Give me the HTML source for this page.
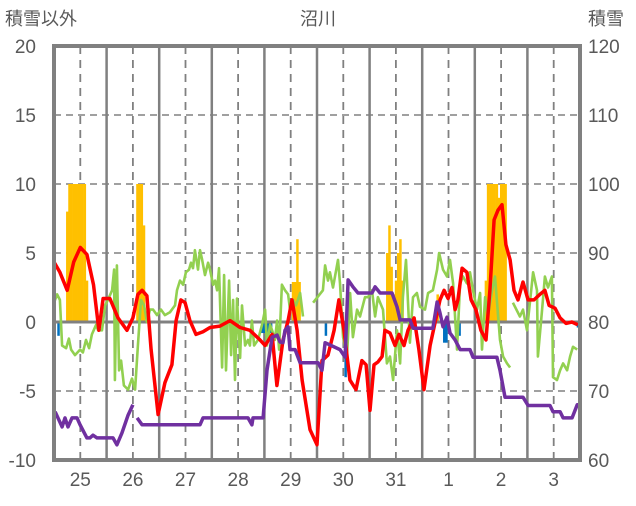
<!DOCTYPE html>
<html><head><meta charset="utf-8"><style>
html,body{margin:0;padding:0;background:#fff;}
svg text{font-family:"Liberation Sans","Noto Sans CJK JP",sans-serif;fill:#595959;}
</style></head><body>
<svg width="636" height="501" viewBox="0 0 636 501" id="chart">
<text x="5" y="25" font-size="18">積雪以外</text>
<text x="318" y="25" font-size="18" text-anchor="middle">沼川</text>
<text x="588" y="25" font-size="18">積雪</text>
<g id="grid"></g>
<g id="bars"></g>
<g id="lines"></g>
<g id="axes"></g>
</svg>
<script>
const dayLabels=["25","26","27","28","29","30","31","1","2","3"];
const leftTicks=[20,15,10,5,0,-5,-10];
const rightTicks=[120,110,100,90,80,70,60];
const orangeT=[6,7,8,9,10,11,12,13,14,15,38,39,40,41,109,110,111,112,152,153,154,155,156,157,158,159,175,197,198,199,200,201,202,203,204,205,206];
const orangeV=[8,10,10,10,10,10,10,10,10,3,10,10,10,7,2.9,2.9,6,2.9,5,7,4,2,3,5,6,3,2,3,10,10,10,10,10,9,10,10,10];
const blueT=[2,95,96,97,98,99,124,133,178,179,185,239];
const blueV=[-1,-0.8,-0.8,-0.8,-0.8,-0.8,-1,-4,-1.5,-1.5,-1,-0.4];
const redT=[0,2.7,6,9,12,15,18,20.5,22.4,25.5,29.2,33.3,36,38.3,40.2,42.4,44.3,47.5,50.6,53.8,55.7,57.9,59.8,62,64.8,68,71.2,75.7,80.3,84.9,89.4,94,96.3,99.5,101.7,104.5,106.8,108.6,110.9,113.2,116.8,120,122.3,125,127.8,130,132.3,135,137.8,140.5,142.4,144.2,146,147.8,149.7,151,153.3,155.6,157.4,159.7,161.5,164.3,166.5,168.8,171.6,173.8,176.1,178,179.8,181.6,183,184.3,186.2,188.4,190.3,192.5,194.8,197.1,198.9,200.8,202.6,204.4,206.2,208.1,209.9,211.7,214,216.3,219,221.7,224,225.9,228.6,230.9,233.6,236.3,239];
const redV=[4.35,3.6,2.3,4.35,5.4,4.9,2.7,-0.6,1.7,1.7,0.3,-0.6,0.3,2.0,2.3,1.9,-2.0,-6.7,-4.4,-3.1,0.1,1.6,1.4,0.1,-0.9,-0.7,-0.4,-0.3,0.1,-0.4,-0.6,-1.3,-1.7,-0.9,-4.6,-1.3,0.1,1.6,-0.6,-4.2,-7.8,-8.9,-2.8,-2.4,-0.6,1.6,-0.6,-4.2,-4.9,-2.8,-3.1,-6.4,-3.1,-2.9,-2.5,-0.6,-0.8,-1.7,-0.9,-1.7,-0.6,0.3,-2.0,-4.9,-1.7,-0.1,1.6,2.3,1.7,2.5,0.9,1.6,3.9,3.6,1.6,0.9,-0.6,-1.3,2.3,7.4,8.1,8.5,5.6,4.5,2.3,1.6,2.9,1.6,1.6,2.0,2.3,1.2,1.0,0.3,-0.1,0,-0.2];
const greenT=[0,1.4,2.7,3.7,5.5,6.8,7.8,9.6,11.9,13.2,14.6,16,17.3,19.2,20.1,21.9,23.3,24.6,26.5,27.4,27.8,28.7,29.7,30.6,31.9,33.8,35.6,37,38.3,39.7,41.1,42.4,43.8,45.2,47,48.8,50.6,52.9,55.2,56.1,57.5,58.9,60.2,61.6,62.5,63.4,64.3,65.7,66.6,67.5,68.9,70.3,71.2,72.6,73.5,74.4,75.3,76.7,77.6,78.5,79.9,80.8,81.7,82.6,83.5,84.9,85.8,87.2,88.5,89.4,90.3,91.3,93.1,94.9,96.3,97.2,98.6,99.5,100.8,101.8,102.7,104,105.4,106.8,107.7,109.1,110.4,112.3,113.6,116,118.2,122.7,123.7,125,125.9,127.3,129.6,130.5,131.9,133.7,135.1,136.4,138.3,139.6,141.9,143.3,145.1,146.5,147.8,150.1,151.9,153.3,154.7,156.5,157.9,159.2,160.6,162.4,163.8,165.6,167,169.3,170.7,172.9,174.8,175.7,177.5,179.3,180.7,182.1,183.9,185.3,186.6,188.4,189.8,191.2,193,194.4,195.3,196.7,198,199.9,201.2,203.5,204.9,206.7,208.1,208.8,209.4,212.6,214,215.8,218.6,220.4,220.8,222.7,224,225.4,227.2,227.7,229.5,230.9,232.3,234.1,235.5,236.8,238.7];
const greenV=[1.4,2.0,1.6,-1.7,-1.9,-1.2,-2.0,-2.4,-2.0,-2.2,-1.3,-1.9,-0.9,-0.2,-0.6,-0.6,1.2,1.6,2.3,3.8,-4.2,4.1,-3.5,-2.8,-4.6,-4.9,-4.1,-4.9,-1.7,1.6,1.2,0,0.9,0.9,0.5,0.9,0.5,0.7,1.2,2.3,3.0,2.7,3.6,3.8,4.3,3.9,5.2,3.8,5.2,4.6,3.4,4.3,3.8,2.7,3.0,2.3,3.9,-3.3,3.4,-3.5,3.0,-2.4,1.6,-4.2,1.7,-2.6,1.2,-1.7,-1.3,-1.7,0.1,-1.7,-1.3,-0.2,0.9,-1.7,-0.2,-0.6,-1.3,0.1,-2.0,2.7,2.3,2.0,0.9,1.6,1.2,2.1,0.4,null,1.4,2.3,4.1,3.0,3.6,2.5,4.5,2.8,-1.1,-2.5,2.1,-1.1,0.9,0.4,1.8,1.8,2.3,0.4,1.8,0.9,-3.0,-2.5,-4.2,-0.6,-3.0,1.8,4.5,-1.5,1.8,2.1,1.1,0.9,2.1,2.3,3.8,5.0,3.8,3.3,4.5,2.8,-2.0,2.8,3.3,2.8,3.6,2.3,0.9,2.1,-2.0,1.8,0.4,2.3,3.3,-1.3,-2.5,-3.0,-3.3,null,1.4,0.4,0.9,-0.6,3.6,2.3,-2.5,0.9,3.3,2.5,3.3,-4.0,-4.2,-3.5,-3.0,-3.5,-2.5,-1.8,-2.0];
const snowT=[0.5,3.7,5,6.4,8.2,10.5,11.9,15,16.4,17.8,19.6,26.9,28.7,31,33.8,36,36.9,37.9,40.2,66.6,68,88.5,90.3,90.8,95.4,97.2,99.5,101.8,103.1,104.5,105.4,106.8,107.7,110,112.3,120.5,122.3,123.7,130.5,132.8,134.2,136.4,138.7,145.1,146.5,148.8,154.2,156.5,157.9,162.4,163.8,172.9,174.8,176.1,177.5,179.3,180.7,183,185.3,189.8,191.2,202.1,203.5,205.8,214,216.3,226.3,227.7,230.9,232.3,236.4,238.7,240];
const snowV=[67.0,64.8,66.1,64.8,66.1,66.1,65.1,63.2,63.2,63.6,63.2,63.2,62.2,63.9,66.5,68.0,null,66.1,65.1,65.1,66.1,66.1,65.1,66.1,66.1,73.0,77.8,78.1,77.1,77.0,78.8,79.3,76.0,76.0,74.1,74.1,73.0,77.0,76.0,74.9,86.1,85.1,84.2,84.2,85.1,84.2,84.2,82.2,80.3,80.3,79.1,79.1,82.9,81.3,79.3,80.7,78.4,77.4,76.0,76.0,74.9,74.9,73.0,69.1,69.1,67.9,67.9,67.0,67.0,66.1,66.1,68.0,68.0];

const NS="http://www.w3.org/2000/svg";
const X0=54,X1=580,Y0=46,Y1=460;
const xS=h=>X0+h*(X1-X0)/240;
const yL=v=>Y0+(20-v)*(Y1-Y0)/30;
const yR=v=>Y0+(120-v)*(Y1-Y0)/60;
function mk(tag,attrs,parent){const e=document.createElementNS(NS,tag);for(const k in attrs)e.setAttribute(k,attrs[k]);parent.appendChild(e);return e;}
const grid=document.getElementById('grid'),bars=document.getElementById('bars'),lines=document.getElementById('lines'),axes=document.getElementById('axes');
leftTicks.forEach((t,i)=>{
  if(t!==20&&t!==-10&&t!==0){
    const l=mk('line',{x1:X0,x2:X1,y1:yL(t),y2:yL(t),stroke:'#808080','stroke-width':1.5,'stroke-dasharray':'7,5'},grid);
    
    
  }
  const tx=mk('text',{x:36,y:yL(t)+7,'font-size':19,'text-anchor':'end'},axes);tx.textContent=t;
  
  
  const rx=mk('text',{x:588,y:yL(t)+7,'font-size':19},axes);rx.textContent=rightTicks[i];
  
  
});
for(let d=0;d<10;d++){
  if(d>0){const l=mk('line',{x1:xS(d*24),x2:xS(d*24),y1:Y0,y2:Y1,stroke:'#808080','stroke-width':2.5},grid);
    
    }
  const l2=mk('line',{x1:xS(d*24+12),x2:xS(d*24+12),y1:Y0,y2:Y1,stroke:'#808080','stroke-width':1.8,'stroke-dasharray':'8,6'},grid);
  
  
  const tx=mk('text',{x:xS(d*24+12),y:486,'font-size':19,'text-anchor':'middle'},axes);tx.textContent=dayLabels[d];
  
  
}
const bw=(X1-X0)/240;
orangeT.forEach((t,i)=>{const v=orangeV[i];const r=mk('rect',{x:xS(t)-bw/2,y:yL(v),width:bw+0.3,height:yL(0)-yL(v),fill:'#FFC000'},bars);
  
  });
blueT.forEach((t,i)=>{const v=blueV[i];const r=mk('rect',{x:xS(t)-bw/2,y:yL(0),width:bw+0.3,height:yL(v)-yL(0),fill:'#0070C0'},bars);
  
  });
const zl=mk('line',{x1:X0,x2:X1,y1:yL(0),y2:yL(0),stroke:'#808080','stroke-width':3},bars);


function path(T,V,ys){let d='',pen=false;T.forEach((t,i)=>{const v=V[i];if(v===null){pen=false;return;}d+=(pen?'L':'M')+xS(t).toFixed(1)+','+ys(v).toFixed(1);pen=true;});return d;}
const g=mk('path',{d:path(greenT,greenV,yL),fill:'none',stroke:'#92D050','stroke-width':2.6,'stroke-linejoin':'round'},lines);


const r=mk('path',{d:path(redT,redV,yL),fill:'none',stroke:'#FF0000','stroke-width':3.5,'stroke-linejoin':'round'},lines);


const p=mk('path',{d:path(snowT,snowV,yR),fill:'none',stroke:'#7030A0','stroke-width':3.5,'stroke-linejoin':'round'},lines);


const b=mk('rect',{x:X0,y:Y0,width:X1-X0,height:Y1-Y0,fill:'none',stroke:'#808080','stroke-width':4},axes);


</script>
</body></html>
